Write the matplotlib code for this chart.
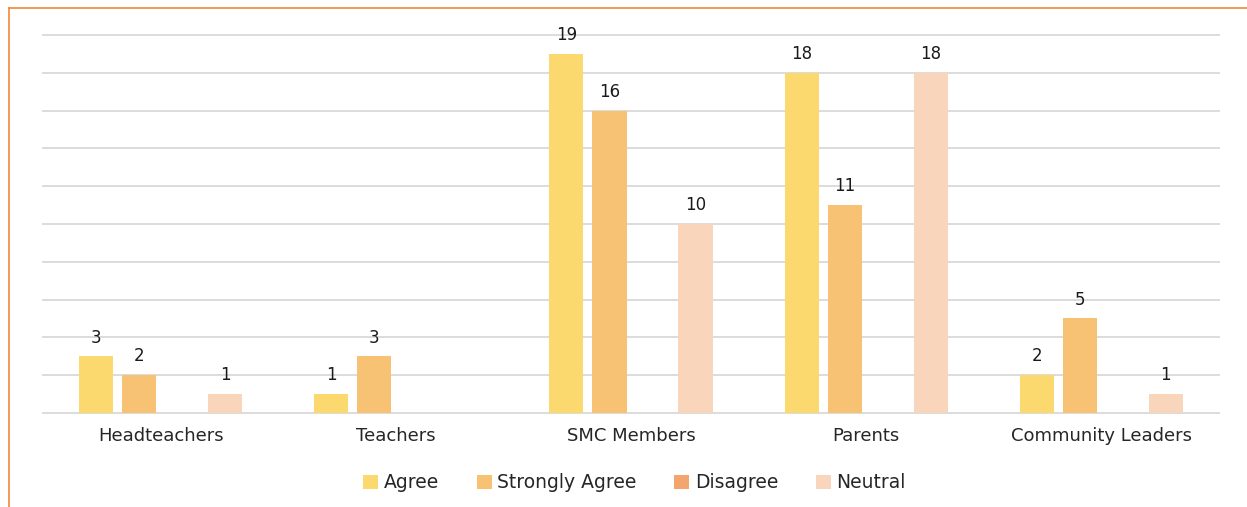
import numpy as np
import matplotlib
matplotlib.use('Agg')
import matplotlib.pyplot as plt
from matplotlib.lines import Line2D

categories = ['Headteachers', 'Teachers', 'SMC Members', 'Parents', 'Community Leaders']
series = ['Agree', 'Strongly Agree', 'Disagree', 'Neutral']
agree = [3, 1, 19, 18, 2]
strongly_agree = [2, 3, 16, 11, 5]
disagree = [0, 0, 0, 0, 0]
neutral = [1, 0, 10, 18, 1]
values = [agree, strongly_agree, disagree, neutral]
colors = ['#FBD96F', '#F7C274', '#F4A56E', '#F9D5BB']

plt.rcParams['font.family'] = 'DejaVu Sans'

fig = plt.figure(figsize=(12.47, 5.07), dpi=100)
ax = fig.add_axes([0.0345, 0.1854, 0.943, 0.7456])

x = np.arange(len(categories))
step = 0.183
width = 0.145

for i, (name, vals, c) in enumerate(zip(series, values, colors)):
    pos = x + (i - 1.5) * step
    bars = ax.bar(pos, vals, width=width, color=c, label=name, zorder=3)
    for b, v in zip(bars, vals):
        if v > 0:
            ax.annotate(str(v), (b.get_x() + b.get_width() / 2, v),
                        xytext=(0, 7), textcoords='offset points',
                        ha='center', va='bottom', fontsize=12, color='#1a1a1a')

ax.set_xlim(-0.5, len(categories) - 0.5)
ax.set_ylim(0, 20)
ax.set_yticks(np.arange(0, 21, 2))
ax.yaxis.grid(True, color='#dcdcdc', linewidth=1.4, zorder=0)
for gl in ax.get_ygridlines():
    gl.set_clip_on(False)
ax.tick_params(axis='y', length=0, labelleft=False)
ax.tick_params(axis='x', length=0, pad=10, labelsize=13, labelcolor='#262626')
ax.set_xticks(x)
ax.set_xticklabels(categories)
for s in ax.spines.values():
    s.set_visible(False)

ax.legend(loc='upper center', bbox_to_anchor=(0.503, -0.115), ncol=4, frameon=False,
          fontsize=13.5, handlelength=0.8, handleheight=0.8, handletextpad=0.3,
          columnspacing=2.0, labelcolor='#262626')

# orange chart border (only top and left edges fall inside the picture)
fig.add_artist(Line2D([9 / 1247, 9 / 1247], [0, 1 - 8 / 507], transform=fig.transFigure,
                      color='#F4873A', linewidth=1.2))
fig.add_artist(Line2D([9 / 1247, 1], [1 - 8 / 507, 1 - 8 / 507], transform=fig.transFigure,
                      color='#F4873A', linewidth=1.2))

fig.savefig('out.png', dpi=100)
